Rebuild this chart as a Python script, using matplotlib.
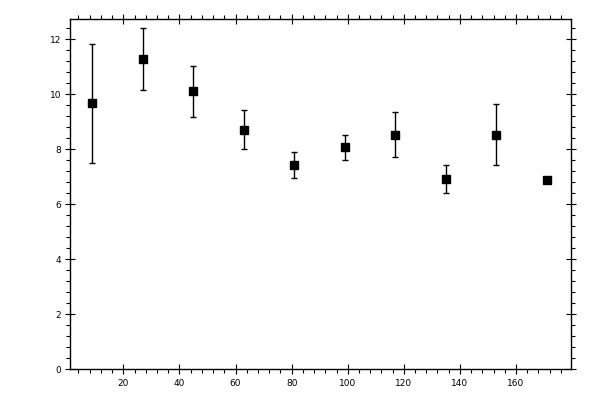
import matplotlib
matplotlib.use("Agg")
import matplotlib.pyplot as plt
from matplotlib.ticker import MultipleLocator

# values
x_vals = [9, 27, 45, 63, 81, 99, 117, 135, 153, 171]
y_vals = [9.67, 11.27, 10.11, 8.69, 7.42, 8.07, 8.51, 6.91, 8.51, 6.87]
err_low = [2.18, 1.12, 0.95, 0.69, 0.47, 0.47, 0.80, 0.51, 1.09, 0.0]
err_high = [2.15, 1.12, 0.93, 0.73, 0.47, 0.44, 0.84, 0.51, 1.13, 0.0]

fig = plt.figure(figsize=(6, 4), dpi=100)
ax = fig.add_axes([0.1167, 0.0768, 0.835, 0.875])

ax.errorbar(x_vals, y_vals, yerr=[err_low, err_high], fmt="s", color="black",
            ms=6.2, capsize=2.5, elinewidth=1.0, capthick=1.0)

ax.set_xlim(1, 179.6)
ax.set_ylim(0, 12.72)

ax.xaxis.set_major_locator(MultipleLocator(20))
ax.xaxis.set_minor_locator(MultipleLocator(4))
ax.yaxis.set_major_locator(MultipleLocator(2))
ax.yaxis.set_minor_locator(MultipleLocator(0.4))

ax.tick_params(which="both", top=True, right=True, width=0.8, colors="black")
ax.tick_params(which="major", direction="inout", length=6.5, labelsize=6.5)
ax.tick_params(which="minor", direction="out", length=3)
ax.tick_params(axis="x", which="major", pad=4)
ax.tick_params(axis="y", which="major", pad=3)

for sp in ax.spines.values():
    sp.set_linewidth(1.0)

fig.savefig("out.png", dpi=100)
